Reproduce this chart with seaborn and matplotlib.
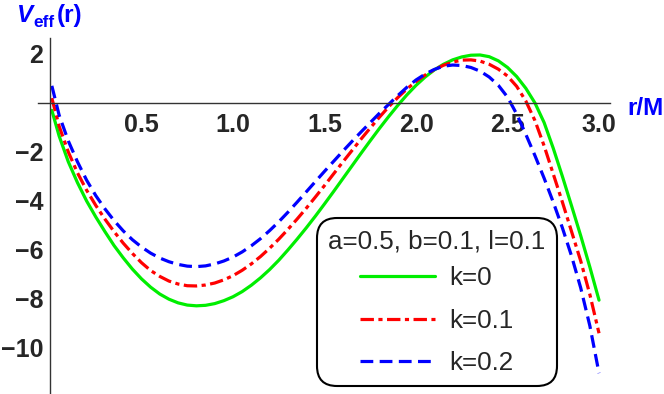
import numpy as np
import pandas as pd
import matplotlib
matplotlib.use("Agg")
import matplotlib.pyplot as plt
import seaborn as sns

sns.set_style("white")
plt.rcParams['font.family'] = ['Liberation Sans', 'DejaVu Sans']

# ---------------- data ----------------
r_vals = [0.01, 0.05, 0.10, 0.15, 0.20, 0.25, 0.30, 0.35, 0.40, 0.45, 0.50,
          0.55, 0.60, 0.65, 0.70, 0.75, 0.80, 0.85, 0.90, 0.95, 1.00,
          1.05, 1.10, 1.15, 1.20, 1.25, 1.30, 1.35, 1.40, 1.45, 1.50,
          1.55, 1.60, 1.65, 1.70, 1.75, 1.80, 1.85, 1.90, 1.95, 2.00,
          2.05, 2.10, 2.15, 2.20, 2.25, 2.30, 2.35, 2.40, 2.45, 2.50,
          2.55, 2.60, 2.65, 2.70, 2.75, 2.80, 2.85, 2.90, 2.95, 3.00]

v_k0 = [-0.30, -1.35, -2.40, -3.25, -4.00, -4.65, -5.25, -5.82, -6.32, -6.78, -7.18,
        -7.52, -7.80, -8.01, -8.16, -8.25, -8.28, -8.26, -8.19, -8.07, -7.91,
        -7.70, -7.44, -7.14, -6.80, -6.42, -6.00, -5.56, -5.10, -4.62, -4.12,
        -3.61, -3.09, -2.57, -2.05, -1.54, -1.04, -0.56, -0.10, 0.33, 0.72,
        1.06, 1.35, 1.58, 1.76, 1.88, 1.95, 1.96, 1.89, 1.72, 1.45,
        1.08, 0.60, 0.00, -0.80, -1.85, -3.00, -4.20, -5.42, -6.70, -8.05]

v_k01 = [0.20, -0.95, -2.00, -2.85, -3.56, -4.18, -4.74, -5.25, -5.72, -6.14, -6.52,
         -6.84, -7.08, -7.27, -7.39, -7.46, -7.47, -7.43, -7.35, -7.22, -7.05,
         -6.83, -6.57, -6.27, -5.93, -5.56, -5.16, -4.74, -4.30, -3.84, -3.37,
         -2.89, -2.41, -1.94, -1.47, -1.02, -0.58, -0.16, 0.22, 0.57, 0.88,
         1.14, 1.36, 1.54, 1.67, 1.75, 1.76, 1.71, 1.58, 1.38, 1.10,
         0.68, 0.08, -0.72, -1.75, -2.90, -4.05, -5.25, -6.45, -7.82, -9.40]

v_k02 = [0.70, -0.50, -1.55, -2.40, -3.15, -3.78, -4.32, -4.80, -5.22, -5.58, -5.88,
         -6.13, -6.33, -6.48, -6.59, -6.66, -6.68, -6.65, -6.57, -6.45, -6.29,
         -6.08, -5.83, -5.54, -5.21, -4.85, -4.46, -4.05, -3.63, -3.21, -2.79,
         -2.38, -1.97, -1.57, -1.18, -0.80, -0.42, -0.06, 0.30, 0.64, 0.94,
         1.18, 1.37, 1.50, 1.55, 1.53, 1.45, 1.30, 1.06, 0.72, 0.24,
         -0.45, -1.28, -2.15, -3.07, -4.05, -5.10, -6.25, -7.55, -9.10, -11.03]

series_labels = ["k=0", "k=0.1", "k=0.2"]
legend_title = "a=0.5, b=0.1, l=0.1"
xtick_vals = [0.5, 1.0, 1.5, 2.0, 2.5, 3.0]
xtick_labels = ["0.5", "1.0", "1.5", "2.0", "2.5", "3.0"]
ytick_vals = [-10, -8, -6, -4, -2, 2]
ytick_labels = ["\u221210", "\u22128", "\u22126", "\u22124", "\u22122", "2"]

df = pd.concat([
    pd.DataFrame({"r": r_vals, "V": v, "k": lab})
    for v, lab in zip([v_k0, v_k01, v_k02], series_labels)
], ignore_index=True)

palette = {"k=0": "#00ee00", "k=0.1": "#ff0000", "k=0.2": "#0000ff"}
dashes = {"k=0": "", "k=0.1": (4.2, 1.4, 1.3, 1.4), "k=0.2": (4.0, 2.0)}

# ---------------- figure ----------------
W, H = 664, 394
fig = plt.figure(figsize=(W / 100, H / 100), dpi=100)
ax = fig.add_axes([38 / W, 0, (610 - 38) / W, (394 - 38) / H])

sns.lineplot(data=df, x="r", y="V", hue="k", style="k", hue_order=series_labels,
             style_order=series_labels, palette=palette, dashes=dashes,
             lw=2.3, ax=ax, legend=False, sort=False)

ax.set_xlim(-0.0656, 3.06)
ax.set_ylim(-11.88, 2.653)
ax.set_xlabel("")
ax.set_ylabel("")

for s in ["top", "right"]:
    ax.spines[s].set_visible(False)
for s in ["left", "bottom"]:
    ax.spines[s].set_position(("data", 0))
    ax.spines[s].set_color("#333333")
    ax.spines[s].set_linewidth(1.0)

ax.set_xticks(xtick_vals)
ax.set_xticklabels(xtick_labels, fontweight="bold", fontsize=18)
ax.set_xticks([x / 10 for x in range(1, 31) if x % 5 != 0], minor=True)
ax.set_yticks(ytick_vals)
ax.set_yticklabels(ytick_labels, fontweight="bold", fontsize=18)
ax.set_yticks([y / 2 for y in range(-23, 6) if y % 4 != 0], minor=True)

ax.tick_params(axis="both", which="major", direction="in", length=6, width=0.9,
               color="#333333")
ax.tick_params(axis="both", which="minor", direction="in", length=3.5, width=0.8,
               color="#333333")
ax.tick_params(axis="x", which="major", pad=7)
ax.tick_params(axis="y", which="major", pad=5)
ax.grid(False)

# axis labels
fig.text(17 / W, (H - 22) / H, "V", color="#0000ff", fontsize=17.5, fontweight="bold",
         fontstyle="italic", ha="left", va="baseline")
fig.text(33 / W, (H - 27) / H, "eff", color="#0000ff", fontsize=12.5, fontweight="bold",
         ha="left", va="baseline")
fig.text(56.5 / W, (H - 22) / H, "(r)", color="#0000ff", fontsize=17.5, fontweight="bold",
         ha="left", va="baseline")
fig.text(627 / W, (H - 115) / H, "r/M", color="#0000ff", fontsize=17.5, fontweight="bold",
         ha="left", va="baseline")

# legend
leg = ax.legend(ax.lines[:3], series_labels, title=legend_title, loc="center",
                bbox_to_anchor=(437 / W, (H - 302) / H), bbox_transform=fig.transFigure,
                fontsize=18.7, title_fontsize=18.7, handlelength=2.9, handletextpad=0.55,
                labelspacing=0.7, borderpad=0.45, frameon=True, fancybox=True,
                framealpha=1)
frame = leg.get_frame()
frame.set_edgecolor("black")
frame.set_linewidth(1.5)
frame.set_boxstyle("round", pad=0, rounding_size=0.8)
leg._legend_box.sep = 9.5

fig.savefig("out.png", dpi=100)
